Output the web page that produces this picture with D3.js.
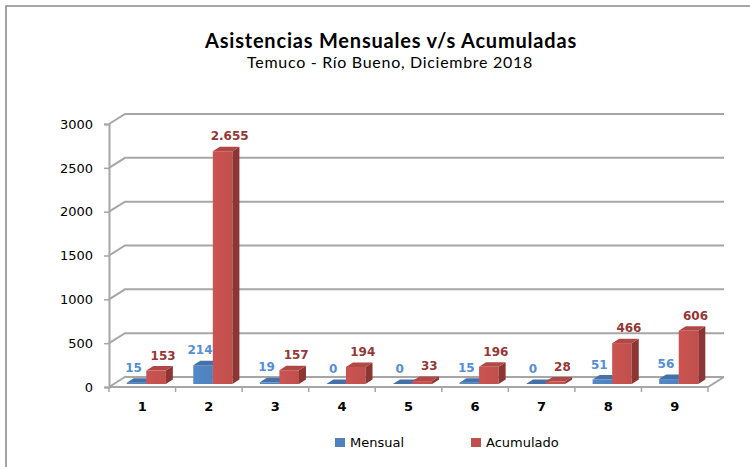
<!DOCTYPE html>
<html>
<head>
<meta charset="utf-8">
<script src="https://cdn.jsdelivr.net/npm/d3@7"></script>
<style>
  body { margin: 0; background: #fff; }
</style>
</head>
<body>
<svg id="chart" width="750" height="467"></svg>
<script>
// chart data
const categories = ["1", "2", "3", "4", "5", "6", "7", "8", "9"];
const seriesNames = ["Mensual", "Acumulado"];
const mensual = [15, 214, 19, 0, 0, 15, 0, 51, 56];
const acumulado = [153, 2655, 157, 194, 33, 196, 28, 466, 606];
const yTicks = [0, 500, 1000, 1500, 2000, 2500, 3000];

const svg = d3.select("#chart");

// spanish number format (2.655)
const es = d3.formatLocale({ decimal: ",", thousands: ".", grouping: [3], currency: ["$", ""] });
const fmt = es.format(",d");

// frame: front plane and depth offset of the back wall
const plotLeft = 109, plotRight = 708, plotBase = 387, plotTop = 124;
const dx = 16, dy = -10;

const x = d3.scaleBand().domain(categories).range([plotLeft, plotRight]).padding(0);
const xs = d3.scaleBand().domain(seriesNames).range([0, x.bandwidth()])
    .paddingInner(0).paddingOuter(0.7);
const y = d3.scaleLinear().domain([0, 3000]).range([plotBase, plotTop]);

// outer border (only left and top visible)
svg.append("path")
    .attr("d", "M6,470 L6,6 L752,6")
    .attr("fill", "none")
    .attr("stroke", "#8c8c8c")
    .attr("stroke-width", 1.6);

// title
svg.append("text")
    .attr("x", 391).attr("y", 48)
    .attr("text-anchor", "middle")
    .style("font-family", "Lato, 'Open Sans', sans-serif")
    .style("font-size", "20px")
    .style("font-weight", "bold")
    .style("letter-spacing", "0.8px")
    .text("Asistencias Mensuales v/s Acumuladas");

svg.append("text")
    .attr("x", 390).attr("y", 68)
    .attr("text-anchor", "middle")
    .style("font-family", "Lato, 'Open Sans', sans-serif")
    .style("font-size", "16px")
    .style("letter-spacing", "0.7px")
    .text("Temuco - Río Bueno, Diciembre 2018");

const grid = svg.append("g").attr("fill", "none").attr("stroke", "#a6a6a6").attr("stroke-width", 2);

// back wall gridlines and side wall diagonals
yTicks.forEach(v => {
    grid.append("path")
        .attr("d", `M${plotLeft},${y(v)} L${plotLeft + dx},${y(v) + dy} L${plotRight + dx},${y(v) + dy}`);
});

// floor front edge and right edge
grid.append("path")
    .attr("d", `M${plotLeft},${plotBase} L${plotRight},${plotBase} L${plotRight + dx},${plotBase + dy}`);

// category tick marks at band boundaries
d3.range(categories.length + 1).forEach(i => {
    const xx = plotLeft + i * x.bandwidth();
    grid.append("line")
        .attr("x1", xx).attr("x2", xx)
        .attr("y1", plotBase).attr("y2", plotBase + 5)
        .attr("stroke-width", 1.5);
});

// y axis
const yAxis = svg.append("g")
    .attr("transform", `translate(${plotLeft},0)`)
    .call(d3.axisLeft(y).tickValues(yTicks).tickSize(5).tickPadding(11).tickFormat(d3.format("d")));
yAxis.select(".domain").attr("stroke", "#a6a6a6").attr("stroke-width", 2);
yAxis.selectAll(".tick line").attr("stroke", "#a6a6a6").attr("stroke-width", 1.5);
yAxis.selectAll("text")
    .style("font-family", "'DejaVu Sans', Verdana, sans-serif")
    .style("font-size", "13px")
    .attr("fill", "#000");

// x axis labels
const xAxis = svg.append("g")
    .attr("transform", `translate(0,${plotBase})`)
    .call(d3.axisBottom(x).tickSize(0).tickPadding(15));
xAxis.select(".domain").remove();
xAxis.selectAll("text")
    .style("font-family", "'DejaVu Sans', Verdana, sans-serif")
    .style("font-size", "13px")
    .style("font-weight", "bold")
    .attr("fill", "#000");

// 3d bars
const bdx = 7, bdy = -4.5;     // bar depth
const ox = 4, oy = -3;         // bars sit a little into the floor
const colors = {
    Mensual: { front: "#4f81bd", side: "#365e8f", top: "#4472a8", label: "#558ed5", lx: -3 },
    Acumulado: { front: "#c0504d", side: "#8c3533", top: "#b04845", label: "#953735", lx: 7 }
};

const rows = [];
categories.forEach((c, i) => {
    rows.push({ cat: c, s: "Mensual", v: mensual[i] });
    rows.push({ cat: c, s: "Acumulado", v: acumulado[i] });
});

const defs = svg.append("defs");
Object.entries(colors).forEach(([k, c]) => {
    const g = defs.append("linearGradient").attr("id", "g" + k)
        .attr("x1", "0").attr("x2", "1").attr("y1", "0").attr("y2", "0");
    g.append("stop").attr("offset", "0").attr("stop-color", d3.color(c.front).brighter(0.15));
    g.append("stop").attr("offset", "1").attr("stop-color", c.front);
});

const bars = svg.append("g").selectAll("g").data(rows).join("g");

bars.each(function(d) {
    const g = d3.select(this);
    const x0 = x(d.cat) + xs(d.s) + ox;
    const w = xs.bandwidth();
    const yb = y(0) + oy;
    const yt = y(d.v) + oy;
    const c = colors[d.s];
    // front
    g.append("rect")
        .attr("x", x0).attr("y", yt)
        .attr("width", w).attr("height", yb - yt)
        .attr("fill", `url(#g${d.s})`);
    // side
    g.append("path")
        .attr("d", `M${x0 + w},${yt} L${x0 + w + bdx},${yt + bdy} L${x0 + w + bdx},${yb + bdy} L${x0 + w},${yb} Z`)
        .attr("fill", c.side);
    // top
    g.append("path")
        .attr("d", `M${x0},${yt} L${x0 + w},${yt} L${x0 + w + bdx},${yt + bdy} L${x0 + bdx},${yt + bdy} Z`)
        .attr("fill", c.top);
    // value label
    g.append("text")
        .attr("x", x0 + w / 2 + c.lx)
        .attr("y", yt - 15)
        .attr("dominant-baseline", "central")
        .attr("text-anchor", "middle")
        .attr("fill", c.label)
        .style("font-family", "'DejaVu Sans', Verdana, sans-serif")
        .style("font-size", "12px")
        .style("font-weight", "bold")
        .text(fmt(d.v));
});

// legend
const legend = svg.append("g")
    .selectAll("g").data(seriesNames).join("g")
    .attr("transform", (d, i) => `translate(${335 + i * 136},438)`);
legend.append("rect")
    .attr("width", 10).attr("height", 9)
    .attr("fill", d => colors[d].front);
legend.append("text")
    .attr("x", 15).attr("y", 9)
    .style("font-family", "'DejaVu Sans', Verdana, sans-serif")
    .style("font-size", "13px")
    .text(d => d);
</script>
</body>
</html>
